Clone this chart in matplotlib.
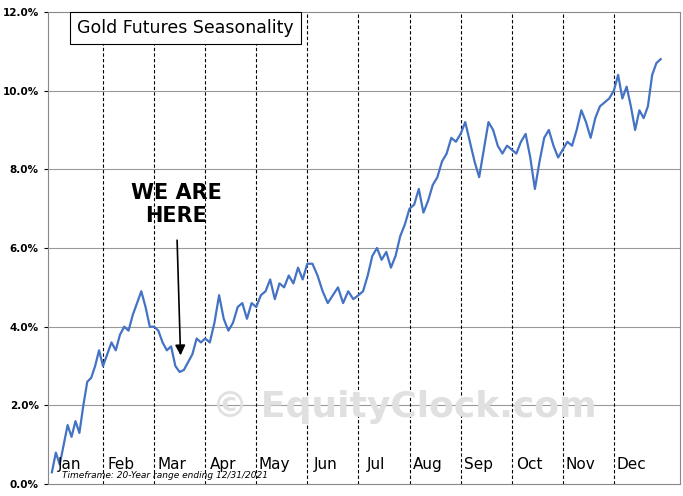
import numpy as np
import matplotlib.pyplot as plt

months = ['Jan', 'Feb', 'Mar', 'Apr', 'May', 'Jun', 'Jul', 'Aug', 'Sep', 'Oct', 'Nov', 'Dec']
# approximate seasonal % gain, sampled across each month
jan = [0.3, 0.8, 0.5, 1.0, 1.5, 1.2, 1.6, 1.3, 2.0, 2.6, 2.7, 3.0, 3.4]
feb = [3.0, 3.3, 3.6, 3.4, 3.8, 4.0, 3.9, 4.3, 4.6, 4.9, 4.5, 4.0]
mar = [4.0, 3.9, 3.6, 3.4, 3.5, 3.0, 2.85, 2.9, 3.1, 3.3, 3.7, 3.6]
apr = [3.7, 3.6, 4.1, 4.8, 4.2, 3.9, 4.1, 4.5, 4.6, 4.2, 4.6]
may = [4.5, 4.8, 4.9, 5.2, 4.7, 5.1, 5.0, 5.3, 5.1, 5.5, 5.2]
jun = [5.6, 5.6, 5.3, 4.9, 4.6, 4.8, 5.0, 4.6, 4.9, 4.7]
jul = [4.8, 4.9, 5.3, 5.8, 6.0, 5.7, 5.9, 5.5, 5.8, 6.3, 6.6]
aug = [7.0, 7.1, 7.5, 6.9, 7.2, 7.6, 7.8, 8.2, 8.4, 8.8, 8.7]
sep = [8.9, 9.2, 8.7, 8.2, 7.8, 8.5, 9.2, 9.0, 8.6, 8.4, 8.6]
octo = [8.5, 8.4, 8.7, 8.9, 8.3, 7.5, 8.2, 8.8, 9.0, 8.6, 8.3]
nov = [8.5, 8.7, 8.6, 9.0, 9.5, 9.2, 8.8, 9.3, 9.6, 9.7, 9.8]
dec = [10.0, 10.4, 9.8, 10.1, 9.6, 9.0, 9.5, 9.3, 9.6, 10.4, 10.7, 10.8]
data = [jan, feb, mar, apr, may, jun, jul, aug, sep, octo, nov, dec]

xs, ys = [], []
for i, vals in enumerate(data):
    xs += list(i + np.arange(len(vals)) / len(vals))
    ys += vals

fig = plt.figure(figsize=(6.83, 4.96), dpi=100)
ax = fig.add_axes([0.070, 0.024, 0.926, 0.952])
ax.set_xlim(-0.08, 12.3)
ax.set_ylim(0, 12)

for y in range(2, 12, 2):
    ax.axhline(y, color='#999999', lw=0.8, zorder=0)
for m in range(1, 12):
    ax.axvline(m, color='black', lw=0.8, ls=(0, (3, 2)), zorder=0)

ax.text(6.9, 1.95, '© EquityClock.com', fontsize=26, fontweight='bold',
        color='#e0e0e0', ha='center', va='center', zorder=0)

ax.plot(xs, ys, color='#4472c4', lw=1.6)

for i, m in enumerate(months):
    ax.text(i + 0.35, 0.5, m, fontsize=11, ha='center', va='center')

ax.text(0.2, 0.22, 'Timeframe: 20-Year range ending 12/31/2021', fontsize=6.5,
        style='italic', va='center')

ax.text(0.5, 11.6, 'Gold Futures Seasonality', fontsize=12.5, va='center',
        bbox=dict(facecolor='white', edgecolor='black', lw=0.8, pad=5))

ax.annotate('WE ARE\nHERE', xy=(2.52, 3.2), xytext=(2.43, 7.1),
            fontsize=15, fontweight='bold', ha='center', va='center',
            arrowprops=dict(arrowstyle='-|>', color='black', lw=1.2, shrinkA=8))

ax.set_xticks([])
ax.set_yticks(range(0, 13, 2))
ax.set_yticklabels([f'{v:.1f}%' for v in range(0, 13, 2)], fontsize=7.5, fontweight='bold')
ax.tick_params(axis='y', length=3)
for s in ax.spines.values():
    s.set_color('#888888')

fig.savefig('out.png', dpi=100)
